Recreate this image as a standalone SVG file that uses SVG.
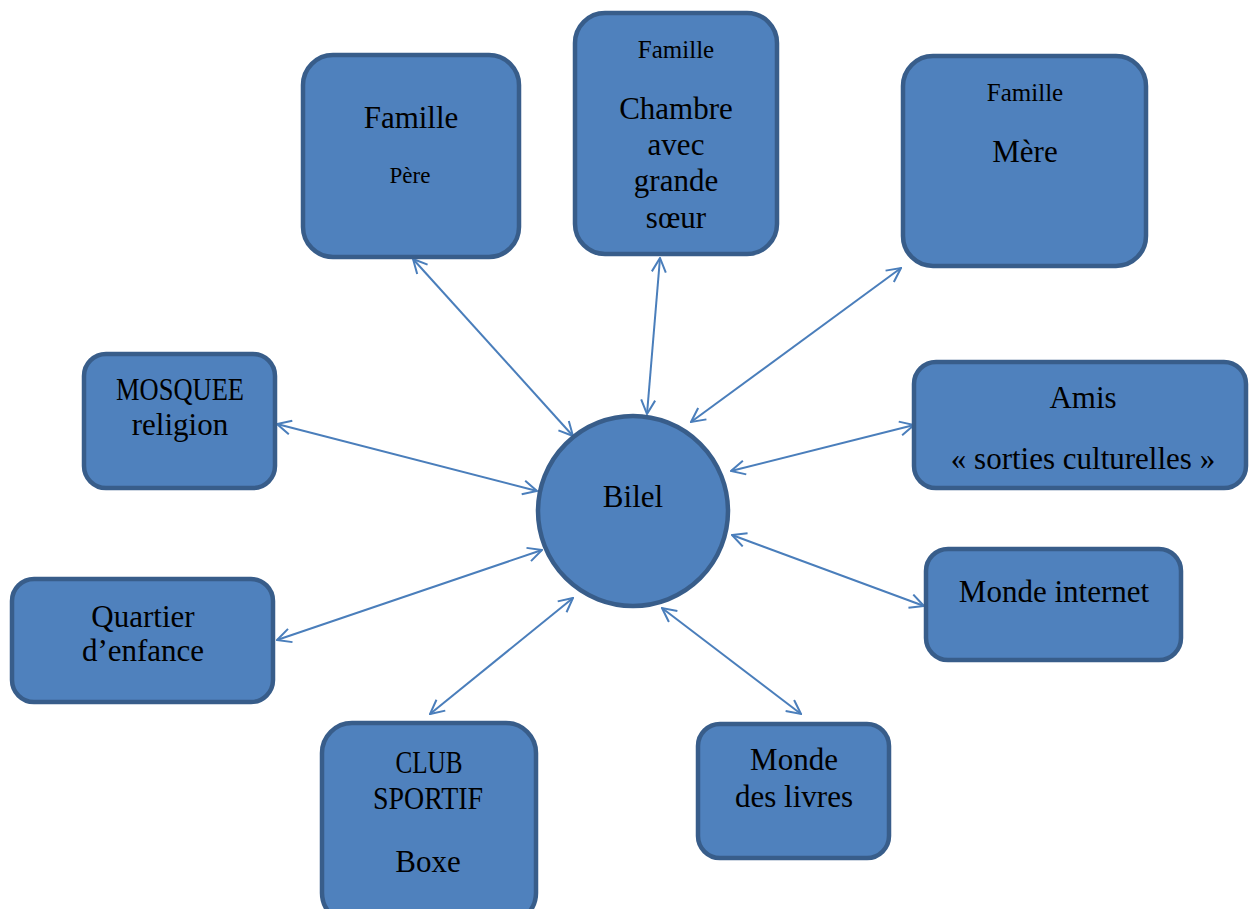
<svg xmlns="http://www.w3.org/2000/svg" width="1249" height="909" viewBox="0 0 1249 909">
<defs>
<style>
.n{fill:#4F81BD;stroke:#385D8A;stroke-width:4.5}
.t{font-family:"Liberation Serif","DejaVu Serif",serif;fill:#000;text-anchor:middle;font-size:31px}
.s{font-size:25px}
.p{font-size:23px}
.c{stroke:#4A7EBB;stroke-width:2;fill:none;marker-start:url(#ah);marker-end:url(#ah)}
</style>
<marker id="ah" viewBox="0 0 16 16" refX="15" refY="8" markerWidth="16" markerHeight="16" markerUnits="userSpaceOnUse" orient="auto-start-reverse">
<path d="M1,1 L15,8 L1,15" fill="none" stroke="#4A7EBB" stroke-width="2"/>
</marker>
</defs>
<rect width="1249" height="909" fill="#fff"/>
<g id="connectors">
<line class="c" x1="413" y1="259" x2="573" y2="436"/>
<line class="c" x1="660" y1="258" x2="647" y2="414"/>
<line class="c" x1="901" y1="268" x2="691" y2="422"/>
<line class="c" x1="277" y1="424" x2="537" y2="491"/>
<line class="c" x1="277" y1="640" x2="542" y2="550"/>
<line class="c" x1="430" y1="714" x2="573" y2="598"/>
<line class="c" x1="662" y1="608" x2="801" y2="714"/>
<line class="c" x1="924" y1="606" x2="732" y2="535"/>
<line class="c" x1="914" y1="425" x2="731" y2="471"/>
</g>
<g id="pere">
<rect class="n" x="303" y="55" width="216" height="202" rx="30"/>
<text class="t" x="411" y="128">Famille</text>
<text class="t p" x="410" y="183">Père</text>
</g>
<g id="chambre">
<rect class="n" x="575" y="13" width="202" height="241" rx="30"/>
<text class="t s" x="676" y="58">Famille</text>
<text class="t" x="676" y="119">Chambre</text>
<text class="t" x="676" y="155">avec</text>
<text class="t" x="676" y="191">grande</text>
<text class="t" x="676" y="228">sœur</text>
</g>
<g id="mere">
<rect class="n" x="903" y="56" width="243" height="210" rx="30"/>
<text class="t s" x="1025" y="101">Famille</text>
<text class="t" x="1025" y="162">Mère</text>
</g>
<g id="mosquee">
<rect class="n" x="84" y="354" width="191" height="134" rx="22"/>
<text class="t" x="180" y="400" textLength="128" lengthAdjust="spacingAndGlyphs">MOSQUEE</text>
<text class="t" x="180" y="435">religion</text>
</g>
<g id="amis">
<rect class="n" x="914" y="362" width="332" height="126" rx="22"/>
<text class="t" x="1083" y="408">Amis</text>
<text class="t" x="1083" y="469">« sorties culturelles »</text>
</g>
<g id="bilel">
<circle class="n" cx="633" cy="511" r="95"/>
<text class="t" x="633" y="507">Bilel</text>
</g>
<g id="quartier">
<rect class="n" x="12" y="579" width="261" height="123" rx="22"/>
<text class="t" x="143" y="627">Quartier</text>
<text class="t" x="143" y="661">d’enfance</text>
</g>
<g id="club">
<rect class="n" x="322" y="723" width="214" height="200" rx="30"/>
<text class="t" x="429" y="773" textLength="67" lengthAdjust="spacingAndGlyphs">CLUB</text>
<text class="t" x="428" y="809" textLength="110" lengthAdjust="spacingAndGlyphs">SPORTIF</text>
<text class="t" x="428" y="872">Boxe</text>
</g>
<g id="livres">
<rect class="n" x="698" y="724" width="191" height="134" rx="22"/>
<text class="t" x="794" y="770">Monde</text>
<text class="t" x="794" y="807">des livres</text>
</g>
<g id="internet">
<rect class="n" x="926" y="549" width="255" height="111" rx="22"/>
<text class="t" x="1054" y="602">Monde internet</text>
</g>
</svg>
